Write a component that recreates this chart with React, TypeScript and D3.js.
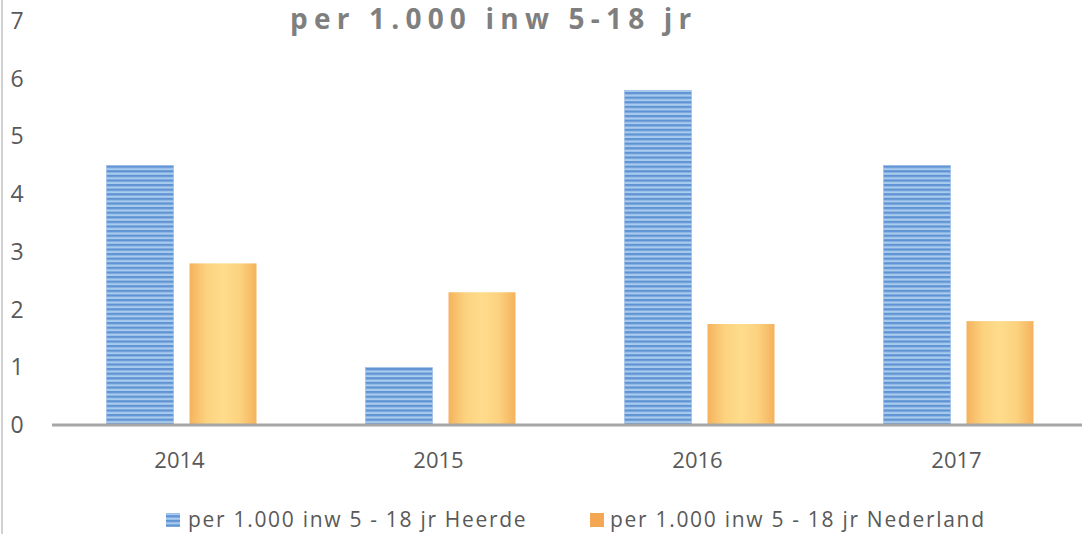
import React from "react";
import * as d3 from "d3";

const categories = ["2014", "2015", "2016", "2017"];
const heerde = [4.5, 1.0, 5.8, 4.5];
const nederland = [2.8, 2.3, 1.75, 1.8];
const yTicks = [0, 1, 2, 3, 4, 5, 6, 7];
const seriesNames = ["per 1.000 inw 5 - 18 jr Heerde", "per 1.000 inw 5 - 18 jr Nederland"];
const title = "per 1.000 inw 5-18 jr";

export default function App() {
  const W = 1082, H = 534;
  const x = d3.scaleBand<string>().domain(categories).range([52, 1088]);
  const y = d3.scaleLinear().domain([0, 7]).range([425, 21]);
  const barW = 67;
  const font = "'Open Sans', 'DejaVu Sans', sans-serif";
  return (
    <svg width={W} height={H} style={{ position: "absolute", left: 0, top: 0, background: "#fff" }}>
      <defs>
        <pattern id="stripes" patternUnits="userSpaceOnUse" width="8" height="4.6">
          <rect width="8" height="4.6" fill="#a9cbee" />
          <rect width="8" height="2.3" fill="#5f93d3" />
        </pattern>
        <linearGradient id="orange" x1="0" x2="1" y1="0" y2="0">
          <stop offset="0" stopColor="#f5b25c" />
          <stop offset="0.25" stopColor="#fcd27f" />
          <stop offset="0.5" stopColor="#fedc8c" />
          <stop offset="0.75" stopColor="#fcd27f" />
          <stop offset="1" stopColor="#f5b25c" />
        </linearGradient>
      </defs>
      <line x1={2} x2={2} y1={0} y2={H} stroke="#d0d0d0" strokeWidth={2} />
      <text x={290} y={29} textAnchor="start" fontFamily={font} fontWeight="bold" fontSize={28} letterSpacing={6.2} fill="#7f7f7f">{title}</text>
      {yTicks.map((t) => (
        <text key={t} x={17} y={y(t) + 8} textAnchor="middle" fontFamily={font} fontSize={23} fill="#595959">{t}</text>
      ))}
      {categories.map((c, i) => {
        const cx = (x(c) as number) + x.bandwidth() / 2;
        return (
          <g key={c}>
            <rect x={cx - 75} y={y(heerde[i])} width={barW} height={y(0) - y(heerde[i])} fill="url(#stripes)" stroke="#8fb4e3" strokeWidth={0.5} />
            <rect x={cx + 8} y={y(nederland[i])} width={barW} height={y(0) - y(nederland[i])} fill="url(#orange)" />
            <text x={cx - 2} y={468} textAnchor="middle" fontFamily={font} fontSize={22} fill="#595959">{c}</text>
          </g>
        );
      })}
      <line x1={52} x2={W} y1={y(0)} y2={y(0)} stroke="#a6a6a6" strokeWidth={3} />
      <rect x={166} y={513} width={14} height={14} fill="url(#stripes)" />
      <text x={188} y={527} fontFamily={font} fontSize={21} letterSpacing={1.7} fill="#595959">{seriesNames[0]}</text>
      <rect x={590} y={513} width={14} height={14} fill="#f4a753" />
      <text x={610} y={527} fontFamily={font} fontSize={21} letterSpacing={1.7} fill="#595959">{seriesNames[1]}</text>
    </svg>
  );
}
